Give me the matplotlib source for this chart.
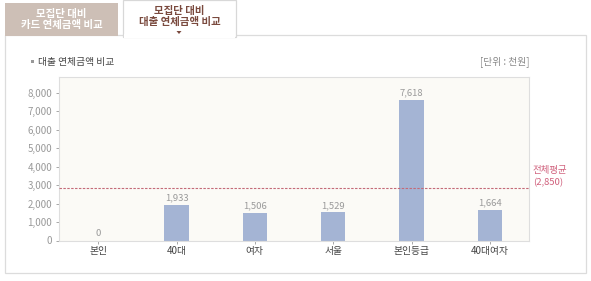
import matplotlib
matplotlib.use("Agg")
import matplotlib.pyplot as plt
from matplotlib.patches import Rectangle, Polygon

plt.rcParams['font.family'] = ['Noto Sans CJK KR', 'DejaVu Sans']

categories = ['본인', '40대', '여자', '서울', '본인등급', '40대여자']
values = [0, 1933, 1506, 1529, 7618, 1664]
average = 2850
yticks = [0, 1000, 2000, 3000, 4000, 5000, 6000, 7000, 8000]
tab_labels = ['모집단 대비\n카드 연체금액 비교', '모집단 대비\n대출 연체금액 비교']
title = '대출 연체금액 비교'
unit = '[단위 : 천원]'
avg_label = '전체평균\n(2,850)'

W, H = 591, 281
fig = plt.figure(figsize=(W / 100, H / 100), dpi=100)
fig.patch.set_facecolor('white')


def px(x, y):
    return x / W, 1 - y / H


def rect(x0, y0, x1, y1, **kw):
    fig.patches.append(Rectangle((x0 / W, 1 - y1 / H), (x1 - x0) / W, (y1 - y0) / H,
                                 transform=fig.transFigure, **kw))


# outer content box
rect(5, 35, 586, 273, facecolor='white', edgecolor='#dcdcdc', linewidth=0.9)

# inactive tab
rect(5, 3, 118, 36, facecolor='#cdbfb6', edgecolor='none')
fig.text(*px(61.5, 19.5), tab_labels[0], ha='center', va='center', color='white',
         fontsize=7.5, fontweight='bold', linespacing=1.1)

# active tab
rect(123, 0, 236, 36.5, facecolor='white', edgecolor='#d8d8d8', linewidth=0.9, zorder=2)
rect(123.6, 34, 235.4, 37.5, facecolor='white', edgecolor='none', zorder=3)
fig.text(*px(179.5, 16.5), tab_labels[1], ha='center', va='center', color='#7a4a3e',
         fontsize=7.5, fontweight='bold', linespacing=1.1, zorder=4)
fig.patches.append(Polygon([px(176.5, 31), px(181.5, 31), px(179, 34)], closed=True,
                           transform=fig.transFigure, facecolor='#7a4a3e',
                           edgecolor='none', zorder=4))

# section heading and unit
rect(31, 59.5, 34, 62.5, facecolor='#999999', edgecolor='none')
fig.text(*px(38, 61.5), title, ha='left', va='center', color='#444444', fontsize=7)
fig.text(*px(529, 61.5), unit, ha='right', va='center', color='#888888', fontsize=7)

# chart axes
left, right, top, bottom = 59, 529, 77, 240.5
ax = fig.add_axes([left / W, 1 - bottom / H, (right - left) / W, (bottom - top) / H])
ax.set_zorder(5)
ax.set_facecolor('#fbfaf6')
for s in ax.spines.values():
    s.set_color('#dedede')
    s.set_linewidth(0.8)

xs = list(range(len(categories)))
ax.bar(xs, values, width=0.31, color='#a4b4d4', zorder=2)
for x, v in zip(xs, values):
    ax.text(x, v + 120, f'{v:,}', ha='center', va='bottom', color='#9a9a9a', fontsize=6.8)

ax.axhline(average, color='#c46a78', linestyle=(0, (2.2, 1.3)), linewidth=0.8, zorder=3)
ax.text(1.008, average + 60, avg_label, transform=ax.get_yaxis_transform(), ha='left',
        va='bottom', color='#d0607c', fontsize=6.8, linespacing=1.3)

ax.set_xlim(-0.5, len(categories) - 0.5)
ax.set_ylim(0, 8850)
ax.set_yticks(yticks)
ax.set_yticklabels([f'{t:,}' for t in yticks])
ax.set_xticks(xs)
ax.set_xticklabels(categories)
ax.tick_params(axis='y', length=2, width=0.6, color='#999999', labelcolor='#999999',
               labelsize=7, pad=3)
ax.tick_params(axis='x', length=2, width=0.6, color='#999999', labelcolor='#444444',
               labelsize=7, pad=2)

fig.savefig('out.png', dpi=100, facecolor='white')
